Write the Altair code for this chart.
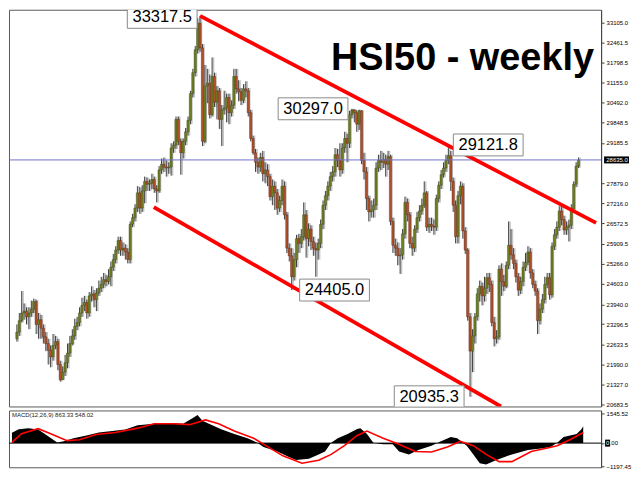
import altair as alt
import pandas as pd

# ---------------- data ----------------
first_open = 22822
closes = [
    23039, 23411, 23659, 23721, 23535, 23659, 23783, 24031, 23287, 23442,
    23163, 22884, 22667, 22450, 22233, 22605, 22729, 21985, 21489, 21737,
    22047, 22357, 22667, 22915, 23225, 23349, 23659, 23907, 24000, 23659,
    24217, 24279, 24093, 24310, 24465, 24589, 24744, 24682, 24837, 25147,
    25395, 25705, 26015, 25705, 25767, 25643, 25395, 26542, 26759, 27069,
    27565, 27069, 27627, 27937, 27844, 27875, 27999, 27689, 27627, 28309,
    28495, 28402, 28371, 28402, 29022, 29115, 29952, 29239, 28867, 29239,
    29549, 29921, 30789, 31471, 32215, 33083, 32277, 29239, 31037, 31130,
    30107, 31347, 30510, 30882, 29952, 30262, 30324, 30665, 30169, 30417,
    31347, 30944, 30851, 30572, 30944, 30882, 30169, 29332, 28867, 28557,
    28402, 28712, 28185, 28309, 28092, 27441, 27782, 27565, 27069, 27317,
    27782, 26852, 25767, 25519, 24837, 25395, 26077, 25922, 26139, 26852,
    26077, 26387, 25984, 25767, 25705, 25922, 26542, 27162, 27472, 27782,
    28092, 28247, 28805, 28619, 28309, 29022, 29332, 29177, 30107, 30262,
    30169, 29797, 30231, 28619, 28247, 27379, 26945, 27007, 27162, 28371,
    28619, 28557, 28650, 28495, 28743, 26635, 25860, 25767, 25519, 25550,
    26232, 27255, 26852, 25922, 25767, 26387, 26759, 26976, 27162, 27565,
    26449, 26542, 26480, 26449, 27379, 27813, 28154, 28371, 28619, 28774,
    27937, 27162, 26139, 27472, 27782, 26325, 25705, 23535, 22419, 22915,
    23535, 24279, 24527, 24217, 24465, 24806, 24589, 23349, 22822, 22884,
    25085, 24682, 24527, 25209, 25860, 25550, 25271, 24837, 24403, 24682,
    25147, 25302, 25643, 24961, 24589, 24372, 23411, 23783, 24093, 24589,
    24806, 24248, 25829, 26201, 26449, 26976, 26697, 26356, 26449, 26511,
    27038, 27844, 28433, 28635,
]
highs = [
    23287, 23659, 24372, 23969, 23845, 23845, 24062, 24124, 24093, 23659,
    23597, 23287, 23039, 22822, 22605, 22977, 22915, 22822, 22109, 21923,
    22295, 22667, 22915, 23132, 23473, 23535, 23845, 24155, 24217, 24093,
    24341, 24527, 24403, 24465, 24713, 24837, 24961, 24899, 25085, 25333,
    25581, 25829, 26139, 26139, 25953, 25891, 25767, 26635, 26883, 27193,
    27782, 27751, 27813, 28092, 28061, 27999, 28185, 28092, 27813, 28433,
    28681, 28712, 28619, 28557, 29177, 29239, 30045, 30045, 29332, 29332,
    29673, 30045, 30882, 31595, 32339, 33238, 33317.5, 32401, 31719, 31595,
    31409, 31967, 31471, 31037, 30975, 30417, 30882, 30789, 30789, 30572,
    31595, 31595, 31223, 30975, 31099, 31192, 30975, 30262, 29425, 28991,
    28712, 28867, 28929, 28557, 28495, 28185, 27999, 27937, 27689, 27472,
    27999, 27937, 26945, 25922, 25767, 25612, 26201, 26232, 26387, 27255,
    27007, 26573, 26511, 26139, 25953, 26077, 26697, 27317, 27627, 27937,
    28247, 28433, 29022, 28991, 29177, 29177, 29549, 29487, 30231, 30297,
    30280, 30250, 30270, 30250, 28867, 28402, 27472, 27317, 27379, 28557,
    28805, 28929, 28867, 28805, 28929, 28805, 26759, 26077, 25953, 25767,
    26387, 27441, 27379, 26945, 26139, 26511, 26945, 27162, 27379, 27937,
    27627, 26759, 26759, 26697, 27503, 27937, 28309, 28557, 28805, 29121.8,
    28929, 28061, 27317, 27627, 27937, 27875, 26449, 25767, 23659, 23132,
    23659, 24465, 24713, 24651, 24837, 24961, 24961, 24713, 23535, 23101,
    25209, 25271, 24899, 25333, 26635, 26387, 25767, 25395, 24961, 24837,
    25333, 25612, 25829, 25767, 25085, 24713, 24465, 23969, 24279, 24837,
    24961, 24961, 25953, 26387, 26635, 27131, 27131, 26821, 26635, 26697,
    27193, 27937, 28557, 28712,
]
lows = [
    22729, 22915, 23349, 23442, 23287, 23132, 23535, 23659, 22977, 22822,
    22822, 22667, 22419, 21985, 21892, 22109, 22481, 21799, 21427, 21489,
    21613, 21861, 22233, 22605, 22791, 23101, 23225, 23535, 23721, 23473,
    23535, 24031, 23845, 23721, 24217, 24341, 24465, 24527, 24589, 24527,
    25023, 25271, 25581, 25519, 25519, 25395, 25271, 25271, 26449, 26635,
    26945, 26883, 26945, 27224, 27627, 27627, 27689, 27565, 27255, 27565,
    28185, 28247, 28092, 28185, 28123, 28867, 28991, 29115, 28154, 28681,
    29115, 29425, 29797, 30665, 31347, 32091, 32153, 29084, 29177, 30479,
    29983, 30045, 30355, 29952, 29642, 29084, 30107, 29859, 29797, 30045,
    30293, 30789, 30541, 30417, 30479, 30665, 30045, 29239, 28805, 28247,
    28185, 28247, 27937, 27875, 27782, 27317, 27162, 27007, 26852, 26945,
    27162, 26697, 25612, 25333, 24405, 24713, 25147, 25612, 25767, 26015,
    25457, 25829, 25705, 25519, 24837, 25395, 25767, 26387, 27007, 27317,
    27627, 27937, 28092, 28402, 28092, 28185, 28867, 28557, 29022, 29983,
    29859, 29549, 29611, 28495, 27999, 27007, 26635, 26759, 26759, 27007,
    28247, 28309, 28371, 28092, 28309, 26511, 25612, 25519, 25209, 24930,
    25395, 26077, 26635, 25767, 25519, 25643, 26263, 26635, 26852, 27069,
    26325, 26263, 26325, 26201, 26325, 27255, 27689, 28061, 28247, 28495,
    27627, 26945, 25922, 25922, 27193, 26077, 25581, 23411, 20935.3, 21737,
    22667, 23411, 24031, 23907, 24031, 24279, 24341, 23225, 22574, 22667,
    22791, 24217, 24372, 24465, 25085, 25395, 25085, 24651, 24217, 24279,
    24527, 25023, 25209, 24775, 24465, 24217, 22977, 23287, 23659, 23969,
    24465, 24093, 24155, 25705, 26077, 26325, 26511, 26201, 26201, 25984,
    26387, 26945, 27751, 28371,
]
current_price = 28635.0

price_ticks = [33105.0, 32461.5, 31798.5, 31155.0, 30492.0, 29848.5, 29185.5,
               27879.0, 27216.0, 26572.5, 25909.5, 25266.0, 24603.0, 23940.0,
               23296.5, 22633.5, 21990.0, 21327.0, 20683.5]

ann_idx = [76, 139, 179, 114, 188]
ann_price = [33317.5, 30297.0, 29121.8, 24405.0, 20935.3]
ann_text = ["33317.5", "30297.0", "29121.8", "24405.0", "20935.3"]

upper_idx = [76, 240.3]
upper_price = [33317.5, 26590]
lower_idx = [56.8, 200.8]
lower_price = [27100, 20621]

macd_idx = [0, 2.8, 6.7, 10.7, 13.3, 15.8, 18.5, 21.2, 25.1, 30.4, 35.5, 40.9,
            46.2, 51.3, 58.0, 64.6, 69.8, 73.8, 75.7, 77.7, 81.7, 85.6, 90.7,
            96.1, 100.1, 102.6, 108.0, 113.2, 115.9, 121.1, 125.1, 127.7, 130.2,
            132.9, 136.9, 140.8, 142.1, 144.8, 147.4, 151.4, 155.3, 157.9, 161.9,
            165.8, 171.1, 175.0, 179.0, 181.6, 185.5, 188.2, 190.8, 193.4, 197.4,
            203.9, 210.5, 215.8, 219.7, 222.4, 225.0, 230.3, 232.2, 233]
macd_val = [531, 711, 770, 698, 486, 261, 36, 95, 248, 396, 545, 621,
            698, 923, 995, 1040, 995, 1296, 1445, 1148, 923, 698, 473,
            248, 23, -203, -414, -729, -864, -806, -581, -428, 23,
            248, 473, 725, 770, 473, 23, -54, -54, -428, -581,
            -356, -131, 95, 320, 248, -131, -581, -1031, -1103, -878,
            -581, -356, -279, -203, 23, 320, 473, 698, 863.33]
sig_idx = [0, 3.9, 10.7, 15.8, 22.5, 27.6, 34.3, 42.2, 51.3, 58.0, 65.9, 72.5,
           78.9, 84.3, 90.7, 98.6, 102.6, 110.5, 118.3, 125.1, 130.2, 135.6,
           140.8, 144.8, 151.4, 157.9, 164.5, 171.1, 177.6, 182.9, 188.2, 193.4,
           198.7, 203.9, 211.8, 218.4, 222.4, 227.6, 233]
sig_val = [36, 486, 743, 486, 126, 171, 441, 545, 770, 995, 995, 950,
           1193, 995, 621, 248, -54, -653, -1031, -878, -581, -131,
           396, 621, 248, -54, -428, -459, -203, 95, -131, -581,
           -954, -954, -428, -248, -131, 171, 548.02]
macd_ticks = [1545.52, 0, -1197.45]

# ---------------- layout ----------------
W = 594
H1 = 398
H2 = 57
FONT = "Liberation Sans"

xs = alt.Scale(domain=[-1.2, 240.3], nice=False, zero=False)
ys = alt.Scale(domain=[20621, 33517], nice=False, zero=False)
ms = alt.Scale(domain=[-1242, 1680], nice=False, zero=False)

opens = [first_open] + closes[:-1]
df = pd.DataFrame({
    "i": list(range(len(closes))),
    "open": opens, "close": closes, "high": highs, "low": lows,
})
df["dir"] = ["up" if c >= o else "down" for o, c in zip(opens, closes)]

yaxis = alt.Axis(orient="right", values=price_ticks, format=".1f", labelFontSize=6,
                 labelFont=FONT, labelColor="#000000", tickSize=3, tickColor="#444444",
                 domainColor="#444444", labelPadding=2, grid=False, title=None,
                 labelOverlap=False, labelFlush=False)
maxis = alt.Axis(orient="right", values=macd_ticks,
                 labelExpr="datum.value == 0 ? '' : format(datum.value, '.2f')",
                 labelFontSize=6, labelFont=FONT, labelColor="#000000", tickSize=3,
                 tickColor="#444444", domainColor="#444444", labelPadding=2, grid=False,
                 title=None, labelOverlap=False, labelFlush=False)


def YP(field):
    return alt.Y(field, scale=ys, axis=yaxis)


def YM(field):
    return alt.Y(field, scale=ms, axis=maxis)


X = alt.X("i:Q", scale=xs, axis=None)
base = alt.Chart(df)

shadow = base.mark_rule(color="#c4c4c4", strokeWidth=1.6, xOffset=1.4).encode(
    x=X, y=YP("low:Q"), y2="high:Q")
wick = base.mark_rule(color="#2b2b2b", strokeWidth=0.9).encode(
    x=X, y=YP("low:Q"), y2="high:Q")
body = base.mark_bar(size=2.3, strokeWidth=0.4).encode(
    x=X, y=YP("open:Q"), y2="close:Q",
    color=alt.Color("dir:N", scale=alt.Scale(domain=["up", "down"], range=["#6d7e20", "#b0502a"]), legend=None),
    stroke=alt.Stroke("dir:N", scale=alt.Scale(domain=["up", "down"], range=["#3b4512", "#5a2412"]), legend=None),
)

cur_df = pd.DataFrame({"p": [current_price], "t": [f"{current_price:.1f}"]})
cur_line = alt.Chart(cur_df).mark_rule(color="#6f6fcc", strokeWidth=1).encode(y=YP("p:Q"))

tl = pd.DataFrame({"i": upper_idx + lower_idx, "p": upper_price + lower_price,
                   "g": ["u", "u", "l", "l"]})
trend = alt.Chart(tl).mark_line(color="#ff0000", strokeWidth=3.8, clip=True).encode(
    x=X, y=YP("p:Q"), detail="g:N")

BOX = "M-1,-0.314L1,-0.314L1,0.314L-1,0.314Z"
label_dx = [-38, -39, 40, 43, -41]
label_dy = [1.5, 0, 0, 0, 0]
label_layers = []
for k in range(len(ann_idx)):
    d = pd.DataFrame({"i": [ann_idx[k]], "p": [ann_price[k]], "t": [ann_text[k]]})
    enc = dict(x=X, y=YP("p:Q"))
    label_layers.append(alt.Chart(d).mark_point(
        shape=BOX, size=4900, filled=True, fill="white", stroke="#8a8a8a",
        strokeWidth=1, opacity=1, xOffset=label_dx[k], yOffset=label_dy[k], clip=True).encode(**enc))
    label_layers.append(alt.Chart(d).mark_text(
        font=FONT, fontSize=16.5, color="black", dx=label_dx[k], dy=label_dy[k],
        baseline="middle").encode(text="t:N", **enc))

title_df = pd.DataFrame({"t": ["HSI50 - weekly"]})
title = alt.Chart(title_df).mark_text(
    font=FONT, fontSize=38, fontWeight="bold", align="left", baseline="alphabetic",
    color="black").encode(x=alt.value(323), y=alt.value(60), text="t:N")

cp_box = alt.Chart(cur_df).mark_point(
    shape="M-1,-0.28L1,-0.28L1,0.28L-1,0.28Z", size=625, filled=True, fill="black",
    opacity=1).encode(x=alt.value(W + 15.5), y=YP("p:Q"))
cp_txt = alt.Chart(cur_df).mark_text(
    font=FONT, fontSize=6, color="white", baseline="middle").encode(
    x=alt.value(W + 16), y=YP("p:Q"), text="t:N")

main = alt.layer(shadow, wick, body, cur_line, trend, *label_layers, title, cp_box, cp_txt).properties(
    width=W, height=H1)

# ---------------- MACD panel ----------------
mdf = pd.DataFrame({"i": macd_idx, "v": macd_val})
sdf = pd.DataFrame({"i": sig_idx, "v": sig_val})
hist = alt.Chart(mdf).mark_area(color="black", opacity=1, clip=True).encode(
    x=X, y=YM("v:Q"), y2=alt.datum(0))
sig = alt.Chart(sdf).mark_line(color="#ff0000", strokeWidth=1.6, clip=True).encode(
    x=X, y=YM("v:Q"))
zdf = pd.DataFrame({"z": [0.0], "a": ["0"], "b": [".00"]})
zero = alt.Chart(zdf).mark_rule(color="black", strokeWidth=1).encode(y=YM("z:Q"))
zbox = alt.Chart(zdf).mark_point(
    shape="M-1,-1.4L1,-1.4L1,1.4L-1,1.4Z", size=25, filled=True, fill="black",
    opacity=1).encode(x=alt.value(W + 6.5), y=YM("z:Q"))
ztxt_a = alt.Chart(zdf).mark_text(font=FONT, fontSize=6, color="white", baseline="middle").encode(
    x=alt.value(W + 6.5), y=YM("z:Q"), text="a:N")
ztxt_b = alt.Chart(zdf).mark_text(font=FONT, fontSize=6, color="black", baseline="middle",
                                  align="left").encode(
    x=alt.value(W + 8.6), y=YM("z:Q"), text="b:N")
mtitle_df = pd.DataFrame({"t": [f"MACD(12,26,9) {macd_val[-1]:.2f} {sig_val[-1]:.2f}"]})
mtitle = alt.Chart(mtitle_df).mark_text(font=FONT, fontSize=6, color="#222222", align="left",
                                        baseline="middle").encode(
    x=alt.value(3), y=alt.value(5), text="t:N")

macd = alt.layer(hist, zero, sig, mtitle, zbox, ztxt_a, ztxt_b).properties(width=W, height=H2)

chart = alt.vconcat(main, macd, spacing=1).properties(
    padding={"left": 0, "top": 0, "right": 0, "bottom": 0}, background="white"
).configure_view(stroke="#5a5a5a", strokeWidth=1)

chart.save("out.html", embed_options={"renderer": "svg", "actions": False})
